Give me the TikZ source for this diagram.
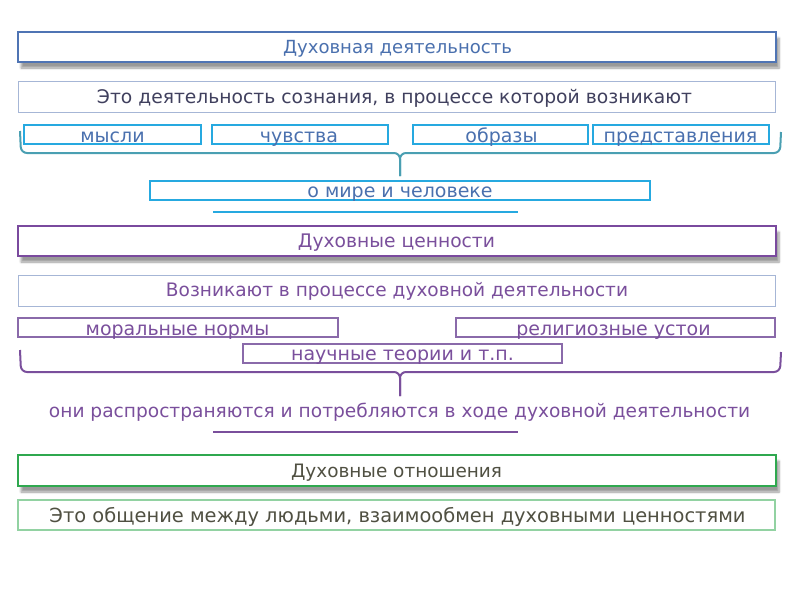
\documentclass[tikz,border=0pt]{standalone}
\usepackage{fontspec}
\setmainfont{DejaVu Sans}
\usetikzlibrary{shadows.blur}
\definecolor{bBlue}{HTML}{4F74B4}
\definecolor{tBlue}{HTML}{4A70AE}
\definecolor{lBord}{HTML}{A6B6D6}
\definecolor{cyanB}{HTML}{26A9E0}
\definecolor{tealB}{HTML}{4A9FB2}
\definecolor{tDark}{HTML}{40405E}
\definecolor{bPurp}{HTML}{7A4A9E}
\definecolor{tPurp}{HTML}{7A4F9C}
\definecolor{sPurp}{HTML}{8A6AAA}
\definecolor{bGreen}{HTML}{2FA84F}
\definecolor{lGreen}{HTML}{92D2A2}
\definecolor{tOlive}{HTML}{505042}
\newcommand\fw[2]{\resizebox{#1pt}{!}{#2}}
\tikzset{
  headbox/.style={draw, line width=2.4pt, fill=white, inner sep=0pt,
    blur shadow={shadow xshift=3pt, shadow yshift=-6pt, shadow opacity=40, shadow blur steps=6}},
  subbox/.style={draw=lBord, line width=1pt, fill=white, inner sep=0pt},
  cbox/.style={draw=cyanB, line width=2pt, inner sep=0pt, minimum height=19pt},
  pbox/.style={draw=sPurp, line width=1.5pt, inner sep=0pt, minimum height=19pt, minimum width=319pt},
  lbl/.style={inner sep=0pt, anchor=base},
  small/.style={lbl, font=\fontsize{19}{19}\selectfont},
  brace/.style={line width=2pt, rounded corners=6pt},
  rule/.style={line width=2.5pt}
}
\begin{document}
\begin{tikzpicture}[x=1pt,y=-1pt]
\useasboundingbox (0,0) rectangle (800,600);
% section 1
\node[headbox, draw=bBlue, minimum width=758pt, minimum height=30pt] (b1) at (397,47) {};
\node[lbl, text=tBlue] (t1) at (397.5,53) {\fw{229}{Духовная деятельность}};
\node[subbox, minimum width=757pt, minimum height=31pt] (b2) at (396.5,96.5) {};
\node[lbl, text=tDark] (t2) at (394.5,103) {\fw{595}{Это деятельность сознания, в процессе которой возникают}};
\node[cbox, minimum width=177pt] (m1) at (112.5,134.5) {};
\node[cbox, minimum width=176pt] (m2) at (300,134.5) {};
\node[cbox, minimum width=175pt] (m3) at (500.5,134.5) {};
\node[cbox, minimum width=176pt] (m4) at (681,134.5) {};
\node[small, text=tBlue] (m1t) at (112.5,142) {мысли};
\node[small, text=tBlue] (m2t) at (299,142) {чувства};
\node[small, text=tBlue] (m3t) at (501.5,142) {образы};
\node[small, text=tBlue] (m4t) at (680.5,142) {представления};
\coordinate (br1l) at (20,131);
\coordinate (br1r) at (781,132);
\coordinate (br1tip) at (400,176);
\draw[brace, tealB] (br1l) -- (21,153) -- (400,153) -- (br1tip);
\draw[brace, tealB] (br1r) -- (780,153) -- (400,153) -- (br1tip);
\node[cbox, minimum width=500pt] (om) at (400,190.5) {};
\node[small, text=tBlue] (omt) at (400,197.5) {о мире и человеке};
\coordinate (r1a) at (213,212);
\coordinate (r1b) at (518,212);
\draw[rule, cyanB] (r1a) -- (r1b);
% section 2
\node[headbox, draw=bPurp, minimum width=758pt, minimum height=30pt] (b3) at (397,241) {};
\node[lbl, text=tPurp] (t3) at (396.5,247) {\fw{197}{Духовные ценности}};
\node[subbox, minimum width=757pt, minimum height=31pt] (b4) at (396.5,290.5) {};
\node[lbl, text=tPurp] (t4) at (397,296.5) {\fw{462}{Возникают в процессе духовной деятельности}};
\node[pbox, minimum width=320pt] (p1) at (178,327.5) {};
\node[pbox] (p2) at (615.5,327.5) {};
\node[pbox] (p3) at (402.5,353.5) {};
\node[small, text=tPurp] (p1t) at (177.5,335) {моральные нормы};
\node[small, text=tPurp] (p2t) at (613.5,335) {религиозные устои};
\node[small, text=tPurp] (p3t) at (402.5,360.5) {научные теории и т.п.};
\coordinate (br2l) at (20,350);
\coordinate (br2r) at (781,352);
\coordinate (br2tip) at (400,396);
\draw[brace, tPurp] (br2l) -- (21,372) -- (400,372) -- (br2tip);
\draw[brace, tPurp] (br2r) -- (780,372) -- (400,372) -- (br2tip);
\node[lbl, text=tPurp] (t5) at (399.5,417) {\fw{701}{они распространяются и потребляются в ходе духовной деятельности}};
\coordinate (r2a) at (213,432);
\coordinate (r2b) at (518,432);
\draw[rule, tPurp] (r2a) -- (r2b);
% section 3
\node[headbox, draw=bGreen, line width=2pt, minimum width=758pt, minimum height=31pt] (b5) at (397,470.5) {};
\node[lbl, text=tOlive] (t6) at (396.5,477) {\fw{211}{Духовные отношения}};
\node[subbox, draw=lGreen, line width=1.2pt, minimum width=757pt, minimum height=30pt] (b6) at (396.5,515) {};
\node[lbl, text=tOlive] (t7) at (397.5,522) {\fw{696}{Это общение между людьми, взаимообмен духовными ценностями}};
\end{tikzpicture}
\end{document}
